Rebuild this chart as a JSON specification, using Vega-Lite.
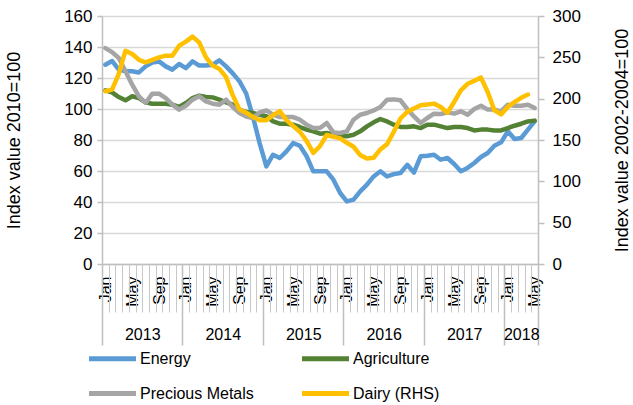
{
  "$schema": "https://vega.github.io/schema/vega-lite/v6.json",
  "autosize": "none",
  "padding": {"left": 102, "top": 16, "right": 95, "bottom": 141},
  "width": 436,
  "height": 248,
  "background": "white",
  "config": {
    "font": "Liberation Sans",
    "view": {"stroke": null},
    "axis": {"labelColor": "#000000", "titleColor": "#000000", "titleFontWeight": "normal", "labelFont": "Liberation Sans", "titleFont": "Liberation Sans"},
    "legend": {"labelFont": "Liberation Sans", "labelColor": "#000000"}
  },
  "data": {
    "values": [
      {"m": 0, "Energy": 128.6, "Agriculture": 112, "Precious Metals": 139.3, "Dairy": 209},
      {"m": 1, "Energy": 131, "Agriculture": 110.7, "Precious Metals": 136.7, "Dairy": 211},
      {"m": 2, "Energy": 125.4, "Agriculture": 107.7, "Precious Metals": 132.9, "Dairy": 230},
      {"m": 3, "Energy": 124.3, "Agriculture": 105.6, "Precious Metals": 124.3, "Dairy": 258},
      {"m": 4, "Energy": 124.3, "Agriculture": 108.2, "Precious Metals": 115.7, "Dairy": 254},
      {"m": 5, "Energy": 123.6, "Agriculture": 107, "Precious Metals": 108.2, "Dairy": 247},
      {"m": 6, "Energy": 127.5, "Agriculture": 104.3, "Precious Metals": 103.9, "Dairy": 244},
      {"m": 7, "Energy": 130, "Agriculture": 103.4, "Precious Metals": 109.9, "Dairy": 247},
      {"m": 8, "Energy": 130.7, "Agriculture": 103.4, "Precious Metals": 109.9, "Dairy": 250},
      {"m": 9, "Energy": 127.5, "Agriculture": 103.4, "Precious Metals": 107, "Dairy": 252},
      {"m": 10, "Energy": 125.4, "Agriculture": 102.8, "Precious Metals": 102.8, "Dairy": 252},
      {"m": 11, "Energy": 129, "Agriculture": 101.3, "Precious Metals": 99.6, "Dairy": 264},
      {"m": 12, "Energy": 126.4, "Agriculture": 103.9, "Precious Metals": 102.1, "Dairy": 269},
      {"m": 13, "Energy": 130.7, "Agriculture": 107, "Precious Metals": 106, "Dairy": 275},
      {"m": 14, "Energy": 128, "Agriculture": 108.6, "Precious Metals": 108.2, "Dairy": 268},
      {"m": 15, "Energy": 128, "Agriculture": 107.7, "Precious Metals": 104.9, "Dairy": 250},
      {"m": 16, "Energy": 128.6, "Agriculture": 107.5, "Precious Metals": 103.4, "Dairy": 240},
      {"m": 17, "Energy": 131.4, "Agriculture": 106, "Precious Metals": 102.8, "Dairy": 236},
      {"m": 18, "Energy": 127.5, "Agriculture": 104.3, "Precious Metals": 106, "Dairy": 226},
      {"m": 19, "Energy": 123, "Agriculture": 102.8, "Precious Metals": 101.3, "Dairy": 204},
      {"m": 20, "Energy": 117.8, "Agriculture": 99.6, "Precious Metals": 97.4, "Dairy": 187},
      {"m": 21, "Energy": 110, "Agriculture": 98, "Precious Metals": 95.2, "Dairy": 183},
      {"m": 22, "Energy": 95, "Agriculture": 97.4, "Precious Metals": 94.2, "Dairy": 178},
      {"m": 23, "Energy": 78, "Agriculture": 96.3, "Precious Metals": 97.8, "Dairy": 174},
      {"m": 24, "Energy": 63, "Agriculture": 95.3, "Precious Metals": 99.1, "Dairy": 174},
      {"m": 25, "Energy": 70.5, "Agriculture": 92, "Precious Metals": 96.3, "Dairy": 180},
      {"m": 26, "Energy": 68.4, "Agriculture": 90.5, "Precious Metals": 94.8, "Dairy": 185},
      {"m": 27, "Energy": 72.7, "Agriculture": 90.5, "Precious Metals": 94.8, "Dairy": 174},
      {"m": 28, "Energy": 78, "Agriculture": 89.9, "Precious Metals": 94.8, "Dairy": 167},
      {"m": 29, "Energy": 76.3, "Agriculture": 88.4, "Precious Metals": 93.1, "Dairy": 160},
      {"m": 30, "Energy": 69.5, "Agriculture": 86.7, "Precious Metals": 89.9, "Dairy": 149},
      {"m": 31, "Energy": 59.8, "Agriculture": 85.6, "Precious Metals": 87.7, "Dairy": 134.5},
      {"m": 32, "Energy": 59.8, "Agriculture": 84.1, "Precious Metals": 87.7, "Dairy": 142.6},
      {"m": 33, "Energy": 59.8, "Agriculture": 84.5, "Precious Metals": 91, "Dairy": 156},
      {"m": 34, "Energy": 54.4, "Agriculture": 83.4, "Precious Metals": 84.9, "Dairy": 154},
      {"m": 35, "Energy": 45.8, "Agriculture": 82.8, "Precious Metals": 84.5, "Dairy": 152},
      {"m": 36, "Energy": 40.4, "Agriculture": 82.4, "Precious Metals": 85.6, "Dairy": 146.6},
      {"m": 37, "Energy": 41.5, "Agriculture": 83.4, "Precious Metals": 93.1, "Dairy": 141.8},
      {"m": 38, "Energy": 46.9, "Agriculture": 85.6, "Precious Metals": 96.3, "Dairy": 131.7},
      {"m": 39, "Energy": 51.2, "Agriculture": 88.8, "Precious Metals": 97.4, "Dairy": 127.7},
      {"m": 40, "Energy": 56.5, "Agriculture": 91.4, "Precious Metals": 99.1, "Dairy": 128.5},
      {"m": 41, "Energy": 59.8, "Agriculture": 93.5, "Precious Metals": 101.3, "Dairy": 138.6},
      {"m": 42, "Energy": 56.5, "Agriculture": 92, "Precious Metals": 106, "Dairy": 145},
      {"m": 43, "Energy": 58, "Agriculture": 89.9, "Precious Metals": 106.2, "Dairy": 160},
      {"m": 44, "Energy": 58.7, "Agriculture": 88.4, "Precious Metals": 105.6, "Dairy": 176},
      {"m": 45, "Energy": 64, "Agriculture": 88.4, "Precious Metals": 100, "Dairy": 184},
      {"m": 46, "Energy": 59, "Agriculture": 88.8, "Precious Metals": 95.2, "Dairy": 188},
      {"m": 47, "Energy": 69.5, "Agriculture": 87.7, "Precious Metals": 91, "Dairy": 192},
      {"m": 48, "Energy": 69.9, "Agriculture": 89.9, "Precious Metals": 94.2, "Dairy": 193},
      {"m": 49, "Energy": 70.5, "Agriculture": 89.9, "Precious Metals": 97, "Dairy": 194},
      {"m": 50, "Energy": 67.3, "Agriculture": 88.8, "Precious Metals": 96.8, "Dairy": 190},
      {"m": 51, "Energy": 68.4, "Agriculture": 87.7, "Precious Metals": 97.8, "Dairy": 183},
      {"m": 52, "Energy": 64.5, "Agriculture": 88.4, "Precious Metals": 97, "Dairy": 196},
      {"m": 53, "Energy": 59.8, "Agriculture": 88.4, "Precious Metals": 98.5, "Dairy": 210},
      {"m": 54, "Energy": 62, "Agriculture": 87.7, "Precious Metals": 96.3, "Dairy": 218},
      {"m": 55, "Energy": 65.2, "Agriculture": 86.2, "Precious Metals": 100, "Dairy": 221.5},
      {"m": 56, "Energy": 69, "Agriculture": 86.7, "Precious Metals": 102.1, "Dairy": 225.5},
      {"m": 57, "Energy": 71.6, "Agriculture": 86.7, "Precious Metals": 99.6, "Dairy": 208},
      {"m": 58, "Energy": 76.3, "Agriculture": 86.2, "Precious Metals": 99.6, "Dairy": 186},
      {"m": 59, "Energy": 78.5, "Agriculture": 86.2, "Precious Metals": 98.5, "Dairy": 181},
      {"m": 60, "Energy": 85.6, "Agriculture": 87.7, "Precious Metals": 102.8, "Dairy": 190},
      {"m": 61, "Energy": 80.6, "Agriculture": 89.2, "Precious Metals": 102.1, "Dairy": 196},
      {"m": 62, "Energy": 81.3, "Agriculture": 90.5, "Precious Metals": 102.1, "Dairy": 201},
      {"m": 63, "Energy": 86.7, "Agriculture": 92, "Precious Metals": 102.8, "Dairy": 205},
      {"m": 64, "Energy": 92, "Agriculture": 92.5, "Precious Metals": 100.6, "Dairy": null}
    ]
  },
  "layer": [
    {
      "transform": [{"fold": ["Energy", "Agriculture", "Precious Metals"], "as": ["series", "value"]}],
      "mark": {"type": "line", "strokeWidth": 4.5, "strokeCap": "round", "strokeJoin": "round"},
      "encoding": {
        "x": {
          "field": "m", "type": "quantitative",
          "scale": {"domain": [-0.5, 64.5], "nice": false, "zero": false},
          "axis": {
            "orient": "bottom",
            "title": null, "grid": false, "ticks": false,
            "values": [0, 4, 8, 12, 16, 20, 24, 28, 32, 36, 40, 44, 48, 52, 56, 60, 64],
            "labelExpr": "['Jan','Feb','Mar','Apr','May','Jun','Jul','Aug','Sep','Oct','Nov','Dec'][datum.value % 12]",
            "labelAngle": 270, "labelAlign": "right", "labelBaseline": "middle",
            "labelFontSize": 16, "labelPadding": 12, "labelOverlap": false, "labelFlush": false,
            "domain": true, "domainColor": "#BFBFBF", "domainWidth": 1.5
          }
        },
        "y": {
          "field": "value", "type": "quantitative",
          "scale": {"domain": [0, 160], "nice": false},
          "axis": {
            "title": "Index value 2010=100", "titleFontSize": 18, "titleX": -88, "titleY": 124, "titleAngle": 270, "titleBaseline": "middle", "titleAlign": "center",
            "values": [0, 20, 40, 60, 80, 100, 120, 140, 160],
            "labelFontSize": 17, "labelPadding": 5,
            "grid": true, "gridColor": "#D9D9D9", "gridWidth": 1.5,
            "domain": true, "domainColor": "#BFBFBF", "domainWidth": 1.5,
            "ticks": true, "tickColor": "#BFBFBF", "tickSize": 5, "tickWidth": 1.5
          }
        },
        "color": {
          "field": "series", "type": "nominal",
          "scale": {"domain": ["Energy", "Agriculture", "Precious Metals", "Dairy (RHS)"], "range": ["#5B9BD5", "#548235", "#A5A5A5", "#FFC000"]},
          "legend": {
            "title": null, "orient": "none", "legendX": -2, "legendY": 330, "columns": 2, "direction": "horizontal",
            "symbolType": "M-2.35,0H2.35", "symbolSize": 400, "symbolStrokeWidth": 5, "symbolFillColor": "transparent",
            "labelFontSize": 16, "labelOffset": 15, "columnPadding": 38, "rowPadding": 12
          }
        }
      }
    },
    {
      "mark": {"type": "line", "strokeWidth": 4.5, "strokeCap": "round", "strokeJoin": "round"},
      "encoding": {
        "x": {
          "field": "m", "type": "quantitative",
          "scale": {"domain": [-0.5, 64.5], "nice": false, "zero": false},
          "axis": {
            "orient": "bottom",
            "title": null, "grid": false, "labels": false, "domain": false,
            "values": [-0.5, 0.5, 1.5, 2.5, 3.5, 4.5, 5.5, 6.5, 7.5, 8.5, 9.5, 10.5, 11.5, 12.5, 13.5, 14.5, 15.5, 16.5, 17.5, 18.5, 19.5, 20.5, 21.5, 22.5, 23.5, 24.5, 25.5, 26.5, 27.5, 28.5, 29.5, 30.5, 31.5, 32.5, 33.5, 34.5, 35.5, 36.5, 37.5, 38.5, 39.5, 40.5, 41.5, 42.5, 43.5, 44.5, 45.5, 46.5, 47.5, 48.5, 49.5, 50.5, 51.5, 52.5, 53.5, 54.5, 55.5, 56.5, 57.5, 58.5, 59.5, 60.5, 61.5, 62.5, 63.5, 64.5],
            "ticks": true, "tickSize": 48, "tickColor": "#C8C8C8", "tickWidth": 1
          }
        },
        "y": {
          "field": "Dairy", "type": "quantitative",
          "scale": {"domain": [0, 300], "nice": false},
          "axis": {
            "orient": "right",
            "title": "Index value 2002-2004=100", "titleFontSize": 18, "titleX": 84, "titleY": 124, "titleAngle": 270, "titleBaseline": "middle", "titleAlign": "center",
            "values": [0, 50, 100, 150, 200, 250, 300],
            "labelFontSize": 17, "labelPadding": 8,
            "grid": false,
            "domain": true, "domainColor": "#BFBFBF", "domainWidth": 1.5,
            "ticks": true, "tickColor": "#BFBFBF", "tickSize": 6, "tickWidth": 1.5
          }
        },
        "color": {
          "datum": "Dairy (RHS)", "type": "nominal",
          "scale": {"domain": ["Energy", "Agriculture", "Precious Metals", "Dairy (RHS)"], "range": ["#5B9BD5", "#548235", "#A5A5A5", "#FFC000"]},
          "legend": {
            "title": null, "orient": "none", "legendX": -2, "legendY": 330, "columns": 2, "direction": "horizontal",
            "symbolType": "M-2.35,0H2.35", "symbolSize": 400, "symbolStrokeWidth": 5, "symbolFillColor": "transparent",
            "labelFontSize": 16, "labelOffset": 15, "columnPadding": 38, "rowPadding": 12
          }
        }
      }
    },
    {
      "mark": {"type": "point", "opacity": 0},
      "encoding": {
        "x": {
          "field": "m", "type": "quantitative",
          "scale": {"domain": [-0.5, 64.5], "nice": false, "zero": false},
          "axis": {
            "orient": "bottom",
            "title": null, "grid": false, "labels": false, "domain": false,
            "values": [-0.5, 11.5, 23.5, 35.5, 47.5, 59.5, 64.5],
            "ticks": true, "tickSize": 81, "tickColor": "#BFBFBF", "tickWidth": 1.5
          }
        }
      }
    },
    {
      "mark": {"type": "point", "opacity": 0},
      "encoding": {
        "x": {
          "field": "m", "type": "quantitative",
          "scale": {"domain": [-0.5, 64.5], "nice": false, "zero": false},
          "axis": {
            "orient": "bottom",
            "title": null, "grid": false, "domain": false, "ticks": false,
            "values": [5.5, 17.5, 29.5, 41.5, 53.5, 62],
            "labelExpr": "'' + (floor(datum.value / 12) + 2013)",
            "labelFontSize": 16, "labelPadding": 62, "labelOverlap": false, "labelFlush": false
          }
        }
      }
    }
  ],
  "resolve": {"scale": {"y": "independent"}, "axis": {"x": "independent"}}
}
